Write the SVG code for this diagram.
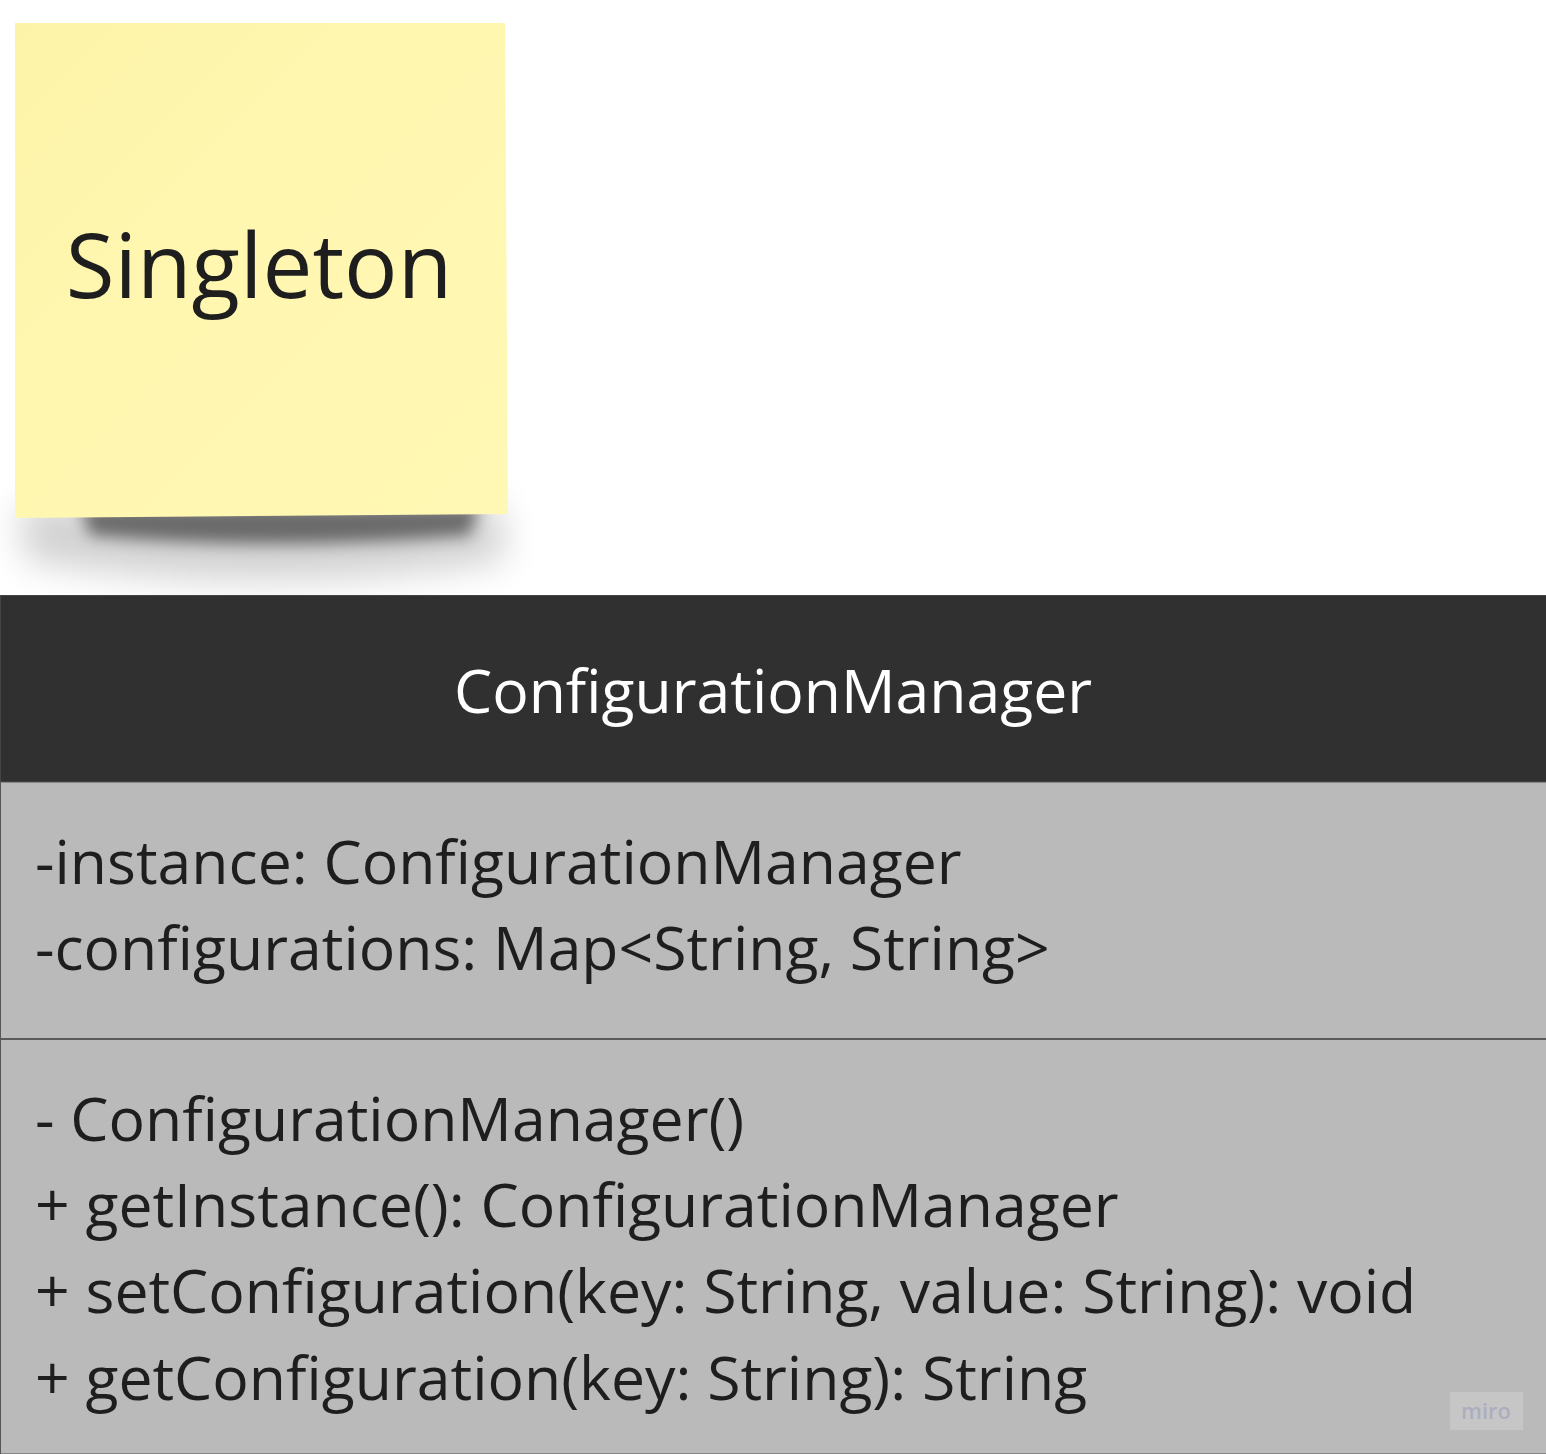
<svg xmlns="http://www.w3.org/2000/svg" width="1546" height="1454" viewBox="0 0 1546 1454">
<style>
.t{font-family:"Open Sans","Noto Sans",sans-serif;fill:#1e1e1e}
.m{font-size:60.7px}
</style>
<defs>
<linearGradient id="sg" x1="0" y1="0" x2="1" y2="1">
<stop offset="0" stop-color="#fdf3a8"/>
<stop offset="0.4" stop-color="#fff7b0"/>
<stop offset="1" stop-color="#fff8b4"/>
</linearGradient>
<filter id="blur" x="-20%" y="-80%" width="140%" height="260%"><feGaussianBlur stdDeviation="18"/></filter>
<filter id="blur2" x="-20%" y="-80%" width="140%" height="260%"><feGaussianBlur stdDeviation="8"/></filter>
</defs>
<rect width="1546" height="1454" fill="#ffffff"/>
<g id="sticky">
<path d="M20 505 L500 505 L505 560 Q260 600 25 560 Z" fill="#000" opacity="0.18" filter="url(#blur)"/>
<path d="M80 505 L480 505 L470 535 Q270 552 90 535 Z" fill="#000" opacity="0.5" filter="url(#blur2)"/>
<path d="M15 23 L505 23 L508 514 L15 518 Z" fill="url(#sg)"/>
<text class="t" x="259" y="298" font-size="89" text-anchor="middle">Singleton</text>
</g>
<g id="class">
<rect x="0.5" y="595.5" width="1546" height="187" fill="#303030" stroke="#444" stroke-width="1"/>
<rect x="0.5" y="782" width="1546" height="672" fill="#bababa" stroke="#555" stroke-width="1"/>
<line x1="0" y1="1039" x2="1546" y2="1039" stroke="#5a5a5a" stroke-width="2"/>
<text class="t m" x="773" y="713" text-anchor="middle" style="fill:#ffffff">ConfigurationManager</text>
<text class="t m" x="35" y="884">-instance: ConfigurationManager</text>
<text class="t m" x="35" y="970">-configurations: Map&lt;String, String&gt;</text>
<text class="t m" x="35" y="1141">- ConfigurationManager()</text>
<text class="t m" x="35" y="1227">+ getInstance(): ConfigurationManager</text>
<text class="t m" x="35" y="1313">+ setConfiguration(key: String, value: String): void</text>
<text class="t m" x="35" y="1400">+ getConfiguration(key: String): String</text>
</g>
<g id="watermark">
<rect x="1450" y="1392" width="73" height="38" fill="#c6c6c6"/>
<text x="1486" y="1419" font-family="'Open Sans',sans-serif" font-size="22" font-weight="600" fill="#adadbf" text-anchor="middle">miro</text>
</g>
<g id="connectors"/>
</svg>
